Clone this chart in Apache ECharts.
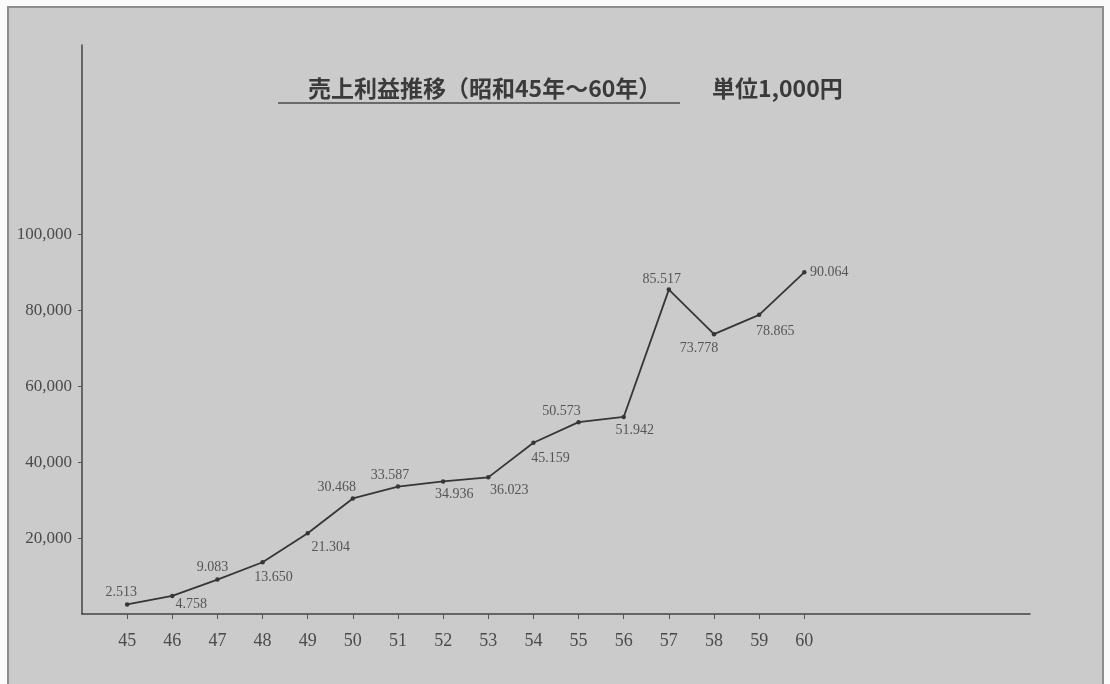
<!DOCTYPE html>
<html>
<head>
<meta charset="utf-8">
<script src="https://cdn.jsdelivr.net/npm/echarts@6/dist/echarts.min.js"></script>
<style>
  html, body { margin: 0; padding: 0; background: #fbfbfb; }
  #wrap { position: relative; width: 1110px; height: 684px; overflow: hidden; }
  #panel {
    position: absolute; left: 7px; top: 6px; width: 1097px; height: 700px;
    background: #cbcbcb; border: 2px solid #8c8c8c; box-sizing: border-box;
  }
  #chart { position: absolute; left: 0; top: 0; width: 1110px; height: 684px; }
</style>
</head>
<body>
<div id="wrap">
  <div id="panel"></div>
  <div id="chart"></div>
</div>
<script>
// 昭和45年〜60年の売上利益（単位 1,000円）
const years = [45, 46, 47, 48, 49, 50, 51, 52, 53, 54, 55, 56, 57, 58, 59, 60];
const profits = [2513, 4758, 9083, 13650, 21304, 30468, 33587, 34936, 36023,
                 45159, 50573, 51942, 85517, 73778, 78865, 90064];
const yTickValues = [20000, 40000, 60000, 80000, 100000];

// where each value label sits relative to its point (px)
const labelOffsets = [
  [-6, -12], [19, 8], [-5, -12], [11, 15], [23, 14], [-16, -11], [-8, -11], [11, 13],
  [21, 13], [17, 16], [-17, -11], [11, 13], [-7, -10], [-15, 14], [16, 16], [25, 0]
];

const SERIF = '"Liberation Serif", "DejaVu Serif", serif';
const GOTHIC = '"Noto Sans CJK JP", "Noto Sans", sans-serif';

function withSep(n, sep) {
  return String(n).replace(/\B(?=(\d{3})+(?!\d))/g, sep);
}

const chart = echarts.init(document.getElementById('chart'), null, { renderer: 'canvas' });

chart.setOption({
  backgroundColor: 'transparent',
  animation: false,
  title: [
    {
      text: '売上利益推移（昭和45年〜60年）',
      left: 303, top: 72,
      textStyle: { fontFamily: GOTHIC, fontWeight: 'bold', fontSize: 23, color: '#3a3a3a' }
    },
    {
      text: '単位1,000円',
      left: 707, top: 72,
      textStyle: { fontFamily: GOTHIC, fontWeight: 'bold', fontSize: 23, color: '#3a3a3a' }
    }
  ],
  graphic: [
    {
      type: 'line',
      shape: { x1: 278, y1: 103, x2: 680, y2: 103 },
      style: { stroke: '#4a4a4a', lineWidth: 1.5 }
    }
  ],
  grid: { left: 82, top: 45, right: 80, bottom: 70 },
  xAxis: {
    type: 'value',
    min: 44, max: 65, interval: 1,
    splitLine: { show: false },
    axisLine: { show: true, onZero: false, lineStyle: { color: '#444', width: 1.5 } },
    axisTick: { show: true, customValues: years, length: 5, lineStyle: { color: '#555' } },
    axisLabel: {
      customValues: years,
      margin: 18,
      fontFamily: SERIF, fontSize: 18, color: '#4a4a4a'
    }
  },
  yAxis: {
    type: 'value',
    min: 0, max: 150000, interval: 20000,
    splitLine: { show: false },
    axisLine: { show: true, lineStyle: { color: '#444', width: 1.5 } },
    axisTick: { show: true, customValues: yTickValues, length: 4, lineStyle: { color: '#555' } },
    axisLabel: {
      customValues: yTickValues,
      margin: 10,
      fontFamily: SERIF, fontSize: 17, color: '#4a4a4a',
      formatter: v => withSep(v, ',')
    }
  },
  series: [
    {
      type: 'line',
      data: years.map((y, i) => ({
        value: [y, profits[i]],
        label: { offset: labelOffsets[i] }
      })),
      symbol: 'circle',
      symbolSize: 4.5,
      lineStyle: { color: '#363636', width: 1.8 },
      itemStyle: { color: '#363636' },
      label: {
        show: true,
        position: 'inside',
        fontFamily: SERIF, fontSize: 14, color: '#555',
        formatter: p => withSep(p.value[1], '.')
      }
    }
  ]
});
</script>
</body>
</html>
